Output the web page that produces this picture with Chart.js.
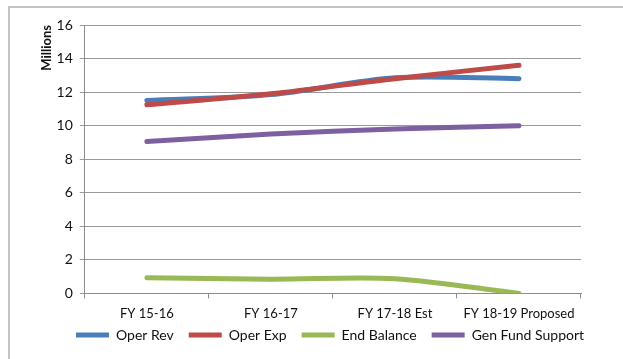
<!DOCTYPE html>
<html lang="en">
<head>
    <meta charset="UTF-8">
    <title>Fund Summary</title>
    <script src="https://cdn.jsdelivr.net/npm/chart.js"></script>
    <style>
        body {
            margin: 0;
            padding: 0;
            background: #ffffff;
        }
        .wrap {
            position: relative;
            width: 623px;
            height: 359px;
        }
        .frame {
            position: absolute;
            left: 8px;
            top: 6px;
            width: 640px;
            height: 380px;
            border-left: 2px solid #c4c4c4;
            border-top: 2px solid #c4c4c4;
        }
        canvas {
            position: absolute;
            left: 0;
            top: 0;
        }
    </style>
</head>
<body>
    <div class="wrap">
        <div class="frame"></div>
        <canvas id="fundChart" width="623" height="359"></canvas>
    </div>

    <script>
        // values (millions)
        const years = ['FY 15-16', 'FY 16-17', 'FY 17-18 Est', 'FY 18-19 Proposed'];
        const operRev = [11.5, 11.85, 12.85, 12.8];
        const operExp = [11.25, 11.9, 12.8, 13.6];
        const endBalance = [0.93, 0.85, 0.88, 0];
        const genFundSupport = [9.05, 9.5, 9.8, 10.0];
        const yTicks = [0, 2, 4, 6, 8, 10, 12, 14, 16];

        Chart.defaults.font.family = 'Lato, "Liberation Sans", sans-serif';
        Chart.defaults.font.size = 13;
        Chart.defaults.color = '#111111';

        // later series sit on top, like the original
        function line(label, data, color, order) {
            return {
                label: label,
                data: data,
                borderColor: color,
                backgroundColor: color,
                borderWidth: 5,
                borderCapStyle: 'round',
                pointRadius: 0,
                pointHoverRadius: 0,
                tension: 0.3,
                fill: false,
                order: order
            };
        }

        // legend sits tight under the axis labels and a bit right of centre
        const legendNudge = {
            id: 'legendNudge',
            afterLayout(chart) {
                const lg = chart.legend;
                const h = lg.bottom - lg.top;
                lg.top = 313;
                lg.bottom = lg.top + h;
                lg.left += 20;
                lg.right += 20;
            }
        };

        const ctx = document.getElementById('fundChart').getContext('2d');
        new Chart(ctx, {
            type: 'line',
            data: {
                labels: years,
                datasets: [
                    line('Oper Rev', operRev, '#4a7ebb', 4),
                    line('Oper Exp', operExp, '#be4b48', 3),
                    line('End Balance', endBalance, '#98b954', 2),
                    line('Gen Fund Support', genFundSupport, '#7d60a0', 1)
                ]
            },
            plugins: [legendNudge],
            options: {
                responsive: false,
                animation: false,
                layout: {
                    padding: { top: 25, right: 42, left: 39, bottom: -10 }
                },
                plugins: {
                    tooltip: { enabled: false },
                    legend: {
                        position: 'bottom',
                        labels: {
                            usePointStyle: true,
                            pointStyle: 'line',
                            pointStyleWidth: 33,
                            boxHeight: 5,
                            padding: 15,
                            font: { size: 14 },
                            sort: (a, b) => a.datasetIndex - b.datasetIndex
                        }
                    }
                },
                scales: {
                    x: {
                        offset: true,
                        grid: {
                            offset: true,
                            drawOnChartArea: false,
                            drawTicks: true,
                            tickLength: 5,
                            color: '#8c8c8c'
                        },
                        border: { color: '#8c8c8c', width: 1 },
                        ticks: { padding: 8 }
                    },
                    y: {
                        min: 0,
                        max: 16,
                        afterBuildTicks: (axis) => {
                            axis.ticks = yTicks.map(v => ({ value: v }));
                        },
                        title: {
                            display: true,
                            text: 'Millions',
                            align: 'end',
                            font: { weight: 'bold', size: 13 },
                            padding: { top: 0, bottom: -5 }
                        },
                        grid: {
                            color: '#9a9a9a',
                            tickLength: 5
                        },
                        border: { color: '#8c8c8c', width: 1 },
                        ticks: { padding: 7, font: { size: 14 } }
                    }
                }
            }
        });
    </script>
</body>
</html>
